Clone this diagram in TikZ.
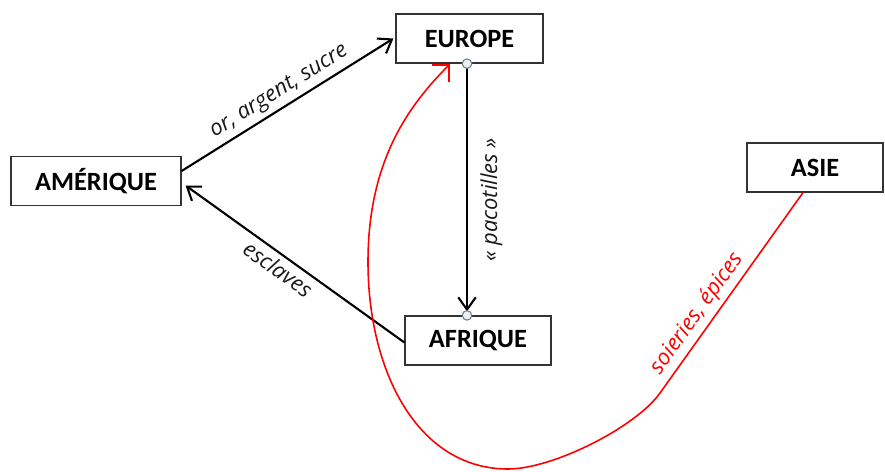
\documentclass[tikz,border=0pt]{standalone}
\usepackage{fontspec}
\setmainfont{Carlito}
\newfontfamily\labfont{Open Sans}
\usetikzlibrary{arrows.meta}
\begin{document}
\begin{tikzpicture}[x=0.02cm,y=-0.02cm,
  box/.style={draw=black!80, line width=0.7pt, fill=white, font=\fontsize{15}{18}\selectfont\bfseries, inner sep=0pt, minimum height=0.98cm},
  lab/.style={font=\labfont\itshape\fontsize{12.5}{15}\selectfont, text=black!90},
  flow/.style={line width=1.2pt, -{Straight Barb[length=7pt,width=10pt,line width=1.2pt]}},
  redflow/.style={red, line width=0.9pt, -{Straight Barb[length=7pt,width=14pt,line width=0.9pt]}},
  dot/.style={circle, draw=black!50!cyan!60!gray, fill=cyan!10!gray!15, line width=0.6pt, minimum size=0.19cm, inner sep=0pt}]
\useasboundingbox (0,0) rectangle (885,471);
\node[box, minimum width=2.94cm] (eu) at (469.5,38.5) {EUROPE};
\node[box, minimum width=3.4cm] (am) at (96,181) {AMÉRIQUE};
\node[box, minimum width=2.72cm] (as) at (815,167.5) {ASIE};
\node[box, minimum width=2.92cm] (af) at (478,340.5) {AFRIQUE};
% Amerique -> Europe
\draw[flow] ([yshift=0.2cm]am.east) -- node[lab, midway, sloped, above, inner sep=2.5pt] {or, argent, sucre} ([xshift=-0.04cm]eu.west);
% Afrique -> Amerique
\draw[flow] ([yshift=-0.04cm]af.west) -- node[lab, pos=0.54, sloped, below, inner sep=2.5pt] {esclaves} ([xshift=0.08cm,yshift=-0.09cm]am.east);
% Europe -> Afrique
\coordinate (eub) at ([xshift=-0.05cm]eu.south);
\coordinate (aft) at (eub |- af.north);
\draw[flow, shorten >=0.08cm] (eub) -- node[lab, pos=0.54, rotate=90, anchor=north, inner sep=7pt] {« pacotilles »} (aft);
\node[dot] (d1) at (eub) {};
\node[dot] (d2) at (aft) {};
% Asie -> Europe
\coordinate (asb) at ([xshift=-0.24cm]as.south);
\coordinate (kink) at (660,393);
\coordinate (redtip) at (450,64);
\draw[redflow] (asb) -- node[lab, text=red, pos=0.65, sloped, above, inner sep=2.5pt] {soieries, épices} (kink)
  .. controls (636,427) and (553,469) .. (508,469)
  .. controls (418,469) and (368,372) .. (368,262)
  .. controls (368,162) and (407.6,106.4) .. (redtip);
\end{tikzpicture}
\end{document}
